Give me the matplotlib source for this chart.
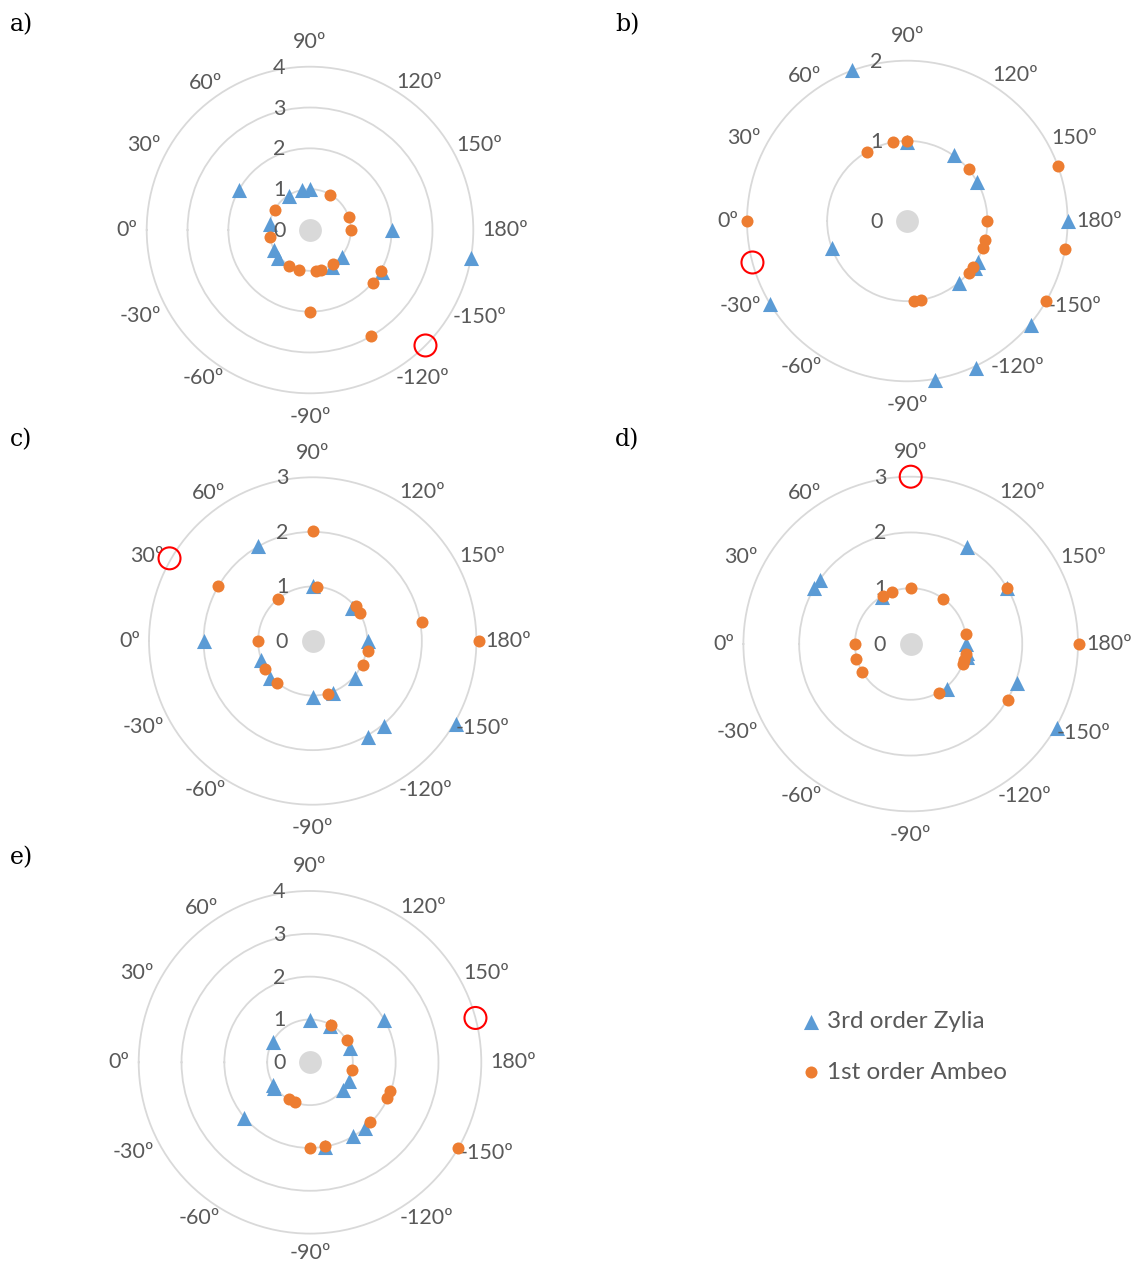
import numpy as np
import matplotlib
matplotlib.use("Agg")
import matplotlib.pyplot as plt
from matplotlib.transforms import offset_copy

# ---------------- data (angle in degrees as labelled, radius) ----------------
zylia_a_theta = [29, 59, 79, 90, 8, -29, -41, -121, -140, -150, 180, -170]
zylia_a_r = [2.0, 0.98, 1.0, 1.0, 1.0, 1.0, 1.05, 1.05, 1.01, 2.05, 2.02, 4.0]
ambeo_a_theta = [120, 161, 180, 30, -10, -60, -75, -99, -105, -124, -150, -140, -90, -120]
ambeo_a_r = [1.0, 1.0, 1.0, 1.0, 1.0, 1.01, 1.01, 1.01, 1.02, 1.01, 2.0, 2.02, 2.02, 3.01]
mark_a = (-135, 4.0)

zylia_b_theta = [70, 90, 125, 151, 180, -20, -31, -150, -145, -130, -140, -115, -100]
zylia_b_r = [2.0, 0.98, 1.01, 1.0, 2.0, 1.0, 2.0, 1.02, 1.03, 1.01, 2.02, 2.02, 2.01]
ambeo_b_theta = [60, 80, 90, 140, 180, -166, -160, -145, -140, -95, -100, 0, 160, -170, -150]
ambeo_b_r = [1.0, 1.0, 1.0, 1.0, 1.0, 1.0, 1.0, 1.0, 1.0, 1.0, 1.0, 2.0, 2.0, 2.0, 2.0]
mark_b = (-15, 2.0)

zylia_c_theta = [60, 90, 140, 180, 0, -20, -41, -90, -111, -139, -130, -120, -150]
zylia_c_r = [2.0, 1.0, 0.95, 1.02, 2.0, 1.0, 1.03, 1.02, 1.03, 1.03, 2.03, 2.03, 3.04]
ambeo_c_theta = [90, 95, 50, 30, 141, 150, 170, 180, 0, -170, -155, -31, -50, -106]
ambeo_c_r = [2.02, 1.0, 1.0, 2.01, 1.02, 1.01, 2.04, 3.04, 1.0, 1.02, 1.02, 1.01, 1.01, 1.01]
mark_c = (30, 3.03)

zylia_d_theta = [35, 30, 59, 120, 150, 180, -171, -167, -129, -160, -150]
zylia_d_r = [1.99, 2.0, 0.99, 2.01, 2.0, 1.0, 1.03, 1.03, 1.03, 2.03, 3.03]
ambeo_d_theta = [60, 70, 90, 126, 150, 180, 170, -170, -159, -163, -120, -150, 0, -15, -30]
ambeo_d_r = [1.0, 1.0, 1.0, 1.0, 2.0, 3.01, 1.0, 1.0, 1.01, 1.0, 1.01, 2.01, 1.0, 1.01, 1.01]
mark_d = (90, 3.0)

zylia_e_theta = [90, 119, 150, 161, 29, -31, -36, -154, -140, -40, -100, -120, -130]
zylia_e_r = [0.99, 0.98, 1.99, 0.99, 1.0, 1.02, 1.03, 1.02, 1.0, 2.01, 2.02, 2.0, 2.0]
ambeo_e_theta = [119, 149, -170, -60, -69, -160, -155, -135, -90, -100, -150]
ambeo_e_r = [1.0, 1.0, 0.99, 0.99, 1.0, 1.98, 1.99, 1.98, 1.99, 1.98, 3.99]
mark_e = (165, 4.0)

panel_names = ["a)", "b)", "c)", "d)", "e)"]
panel_rmax = [4, 2, 3, 3, 4]
angle_labels = [90, 120, 150, 180, -150, -120, -90, -60, -30, 0, 30, 60]
series_names = ["3rd order Zylia", "1st order Ambeo"]

# ---------------- layout / style ----------------
W, H, DPI = 1134, 1263, 100
BLUE = "#5B9BD5"
ORANGE = "#ED7D31"
GRID = "#D9D9D9"
TXT = "#595959"
FONT = ["Lato", "DejaVu Sans"]

# centre x, centre y, outer radius (pixels)
geom = [(310, 230, 163.3), (907.3, 221, 160.3), (312.7, 641, 163.7),
        (910.7, 644, 167.3), (310, 1062.3, 171.3)]
label_pos = [(10, 25), (615, 25), (10, 440), (615, 440), (10, 858)]

# label centre offsets beyond outer ring, in pixels
lab_off = {90: (0, 24.5), 120: (27.5, 6.9), 150: (28, 3.3), 180: (31.5, 0),
           -150: (28, -5), -120: (30.5, -6.9), -90: (0, -23.4), -60: (-25.5, -6.9),
           -30: (-28, -4.4), 0: (-19.5, 0), 30: (-24.5, 3.3), 60: (-22.5, 5.9)}

data = [
    (zylia_a_theta, zylia_a_r, ambeo_a_theta, ambeo_a_r, mark_a),
    (zylia_b_theta, zylia_b_r, ambeo_b_theta, ambeo_b_r, mark_b),
    (zylia_c_theta, zylia_c_r, ambeo_c_theta, ambeo_c_r, mark_c),
    (zylia_d_theta, zylia_d_r, ambeo_d_theta, ambeo_d_r, mark_d),
    (zylia_e_theta, zylia_e_r, ambeo_e_theta, ambeo_e_r, mark_e),
]

fig = plt.figure(figsize=(W / DPI, H / DPI), dpi=DPI)
fig.patch.set_facecolor("white")

handles = None
for i, (zt, zr, at, ar, mk) in enumerate(data):
    cx, cy, R = geom[i]
    rmax = panel_rmax[i]
    ax = fig.add_axes([(cx - R) / W, 1 - (cy + R) / H, 2 * R / W, 2 * R / H],
                      projection="polar")
    ax.set_theta_zero_location("W")
    ax.set_theta_direction(-1)
    ax.set_rlim(0, rmax)
    ax.set_rticks(list(range(1, rmax)))
    ax.set_yticklabels([])
    ax.set_xticks([])
    ax.xaxis.grid(False)
    ax.yaxis.grid(True, color=GRID, lw=1.3)
    ax.spines["polar"].set_color(GRID)
    ax.spines["polar"].set_linewidth(1.3)
    ax.set_facecolor("none")

    # centre disk
    ax.scatter([0], [0], s=270, color=GRID, zorder=2, clip_on=False, lw=0)

    h1 = ax.scatter(np.deg2rad(zt), zr, marker="^", s=118, color=BLUE, lw=0,
                    zorder=3, clip_on=False)
    h2 = ax.scatter(np.deg2rad(at), ar, marker="o", s=75, color=ORANGE, lw=0,
                    zorder=4, clip_on=False)
    ax.scatter([np.deg2rad(mk[0])], [mk[1]], marker="o", s=250, facecolors="none",
               edgecolors="#FF0000", lw=1.5, zorder=5, clip_on=False)
    if handles is None:
        handles = (h1, h2)

    # angle labels
    for a in angle_labels:
        dx, dy = lab_off[a]
        if i == 4 and a == -90:
            dy += 4  # keep the bottom label inside the canvas
        tr = offset_copy(ax.transData, fig=fig, x=dx, y=dy, units="dots")
        ax.text(np.deg2rad(a), rmax, f"{a}º", transform=tr, ha="center",
                va="center", fontsize=15.5, color=TXT, family=FONT, clip_on=False)
    # radial labels
    tr = offset_copy(ax.transData, fig=fig, x=-30.7, y=-1, units="dots")
    for k in range(0, rmax + 1):
        ax.text(np.deg2rad(90), k, str(k), transform=tr, ha="center", va="center",
                fontsize=15.5, color=TXT, family=FONT, clip_on=False)

    lx, ly = label_pos[i]
    fig.text(lx / W, 1 - ly / H, panel_names[i], ha="left", va="center",
             fontsize=17, family="DejaVu Serif", color="black")

leg = fig.legend(handles, series_names, loc="center left",
                 bbox_to_anchor=(781 / W, 1 - 1047 / H), frameon=False,
                 handlelength=0.7, handletextpad=0.3, labelspacing=1.2,
                 prop={"family": FONT, "size": 17.5})
for t in leg.get_texts():
    t.set_color(TXT)

fig.savefig("out.png", dpi=DPI, facecolor="white")
